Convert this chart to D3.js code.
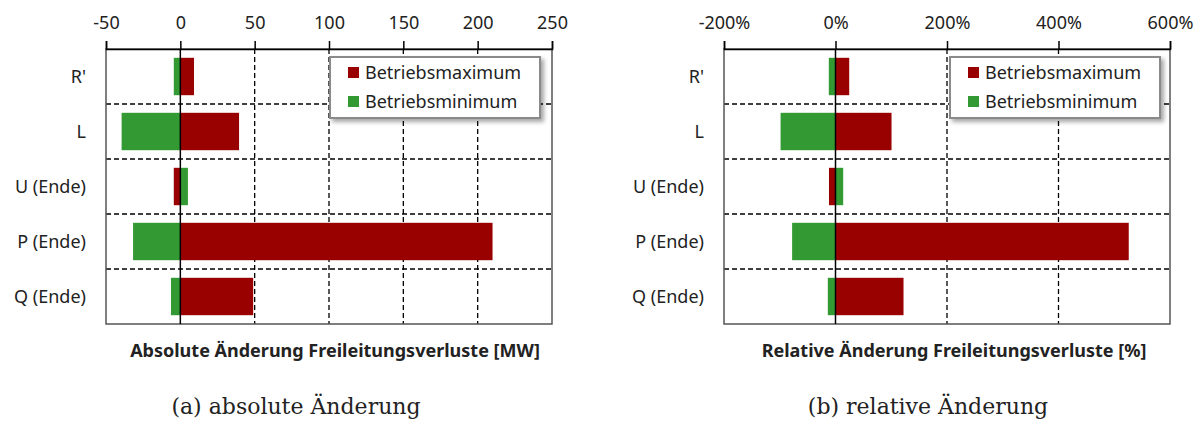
<!DOCTYPE html>
<html>
<head>
<meta charset="utf-8">
<script src="https://cdn.jsdelivr.net/npm/d3@7"></script>
<style>
  body { margin: 0; background: #fff; }
  svg { display: block; }
  text { font-family: "Noto Sans", sans-serif; fill: #222; }
</style>
</head>
<body>
<svg id="chart" width="1203" height="432"></svg>
<script>
// Daten
const categories = ["R'", "L", "U (Ende)", "P (Ende)", "Q (Ende)"];
const seriesNames = ["Betriebsmaximum", "Betriebsminimum"];
const absMaximum = [9.2, 39.5, -4.4, 210, 49];
const absMinimum = [-4.4, -39.5, 5.1, -31.8, -6.3];
const relMaximum = [24.6, 100.5, -11.7, 526, 122];
const relMinimum = [-12, -98.5, 13.8, -77.8, -13.8];
const absTicks = [-50, 0, 50, 100, 150, 200, 250];
const relTicks = [-200, 0, 200, 400, 600];
const colors = ["#990000", "#339933"];

const svg = d3.select("#chart");

// Schatten für Legende
const defs = svg.append("defs");
const f = defs.append("filter").attr("id", "shadow")
    .attr("x", "-10%").attr("y", "-10%").attr("width", "130%").attr("height", "140%");
f.append("feDropShadow").attr("dx", 3).attr("dy", 3).attr("stdDeviation", 2)
    .attr("flood-color", "#000").attr("flood-opacity", 0.35);

function drawPanel(cfg) {
    const g = svg.append("g");
    const x = d3.scaleLinear().domain(cfg.domain).range([cfg.left, cfg.right]);
    const y = d3.scaleBand().domain(categories).range([cfg.top, cfg.bottom]).paddingInner(0.32).paddingOuter(0.16);
    const step = y.step();

    // Gitternetz vertikal
    g.selectAll(".vgrid")
        .data(cfg.ticks.filter(t => t !== 0 && t !== cfg.domain[0] && t !== cfg.domain[1]))
        .enter().append("line")
        .attr("x1", d => x(d)).attr("x2", d => x(d))
        .attr("y1", cfg.top).attr("y2", cfg.bottom)
        .attr("stroke", "#000").attr("stroke-width", 1.3).attr("stroke-dasharray", "5,3");

    // Gitternetz horizontal (zwischen Kategorien)
    g.selectAll(".hgrid")
        .data(categories.slice(1))
        .enter().append("line")
        .attr("x1", cfg.left).attr("x2", cfg.right)
        .attr("y1", d => y(d) - (step - y.bandwidth()) / 2)
        .attr("y2", d => y(d) - (step - y.bandwidth()) / 2)
        .attr("stroke", "#000").attr("stroke-width", 1.3).attr("stroke-dasharray", "5,3");

    // Balken
    [cfg.maxVals, cfg.minVals].forEach((vals, si) => {
        g.selectAll(".bar" + si)
            .data(vals)
            .enter().append("rect")
            .attr("x", d => x(Math.min(0, d)))
            .attr("width", d => Math.abs(x(d) - x(0)))
            .attr("y", (d, i) => y(categories[i]))
            .attr("height", y.bandwidth())
            .attr("fill", colors[si]);
    });

    // Rahmen
    g.append("rect")
        .attr("x", cfg.left).attr("y", cfg.top)
        .attr("width", cfg.right - cfg.left).attr("height", cfg.bottom - cfg.top)
        .attr("fill", "none").attr("stroke", "#555").attr("stroke-width", 1.5);

    // Nulllinie
    g.append("line")
        .attr("x1", x(0)).attr("x2", x(0))
        .attr("y1", cfg.top).attr("y2", cfg.bottom)
        .attr("stroke", "#000").attr("stroke-width", 1.5);

    // Achse oben
    const axis = g.append("g")
        .attr("transform", `translate(0,${cfg.top})`)
        .call(d3.axisTop(x).tickValues(cfg.ticks).tickFormat(cfg.format).tickSize(8).tickPadding(12));
    axis.select(".domain").attr("stroke", "#000").attr("stroke-width", 1.5);
    axis.selectAll(".tick line").attr("stroke", "#000").attr("stroke-width", 1.5);
    axis.selectAll(".tick text")
        .attr("font-family", "'Noto Sans', sans-serif")
        .attr("font-size", 18).attr("fill", "#222");

    // Kategorien
    g.selectAll(".cat")
        .data(categories)
        .enter().append("text")
        .attr("x", cfg.left - 20)
        .attr("y", d => y(d) + y.bandwidth() / 2)
        .attr("dy", "0.35em")
        .attr("text-anchor", "end")
        .attr("font-size", 18)
        .text(d => d);

    // Achsentitel
    g.append("text")
        .attr("x", cfg.titleX).attr("y", 357)
        .attr("text-anchor", "middle")
        .attr("font-size", 18).attr("font-weight", "bold")
        .attr("fill", "#111")
        .text(cfg.title);

    // Legende
    const lg = g.append("g").attr("transform", `translate(${cfg.legendX},57)`);
    lg.append("rect")
        .attr("width", 210).attr("height", 61)
        .attr("fill", "#fff").attr("stroke", "#8a8a8a").attr("stroke-width", 2)
        .attr("filter", "url(#shadow)");
    seriesNames.forEach((name, i) => {
        lg.append("rect")
            .attr("x", 18).attr("y", 10 + i * 29)
            .attr("width", 11).attr("height", 11)
            .attr("fill", colors[i]);
        lg.append("text")
            .attr("x", 35).attr("y", 16 + i * 29)
            .attr("dy", "0.35em")
            .attr("font-size", 18)
            .text(name);
    });

    // Unterschrift
    svg.append("text")
        .attr("x", cfg.captionX).attr("y", 414)
        .attr("text-anchor", "middle")
        .style("font-family", "'DejaVu Serif', serif")
        .attr("font-size", 22).attr("fill", "#111")
        .text(cfg.caption);
}

drawPanel({
    left: 106, right: 552, top: 49, bottom: 324,
    domain: [-50, 250], ticks: absTicks, format: d => String(d),
    maxVals: absMaximum, minVals: absMinimum,
    title: "Absolute Änderung Freileitungsverluste [MW]", titleX: 335,
    legendX: 330, caption: "(a) absolute Änderung", captionX: 296
});

drawPanel({
    left: 724, right: 1170, top: 49, bottom: 324,
    domain: [-200, 600], ticks: relTicks, format: d => d + "%",
    maxVals: relMaximum, minVals: relMinimum,
    title: "Relative Änderung Freileitungsverluste [%]", titleX: 954,
    legendX: 950, caption: "(b) relative Änderung", captionX: 928
});
</script>
</body>
</html>
